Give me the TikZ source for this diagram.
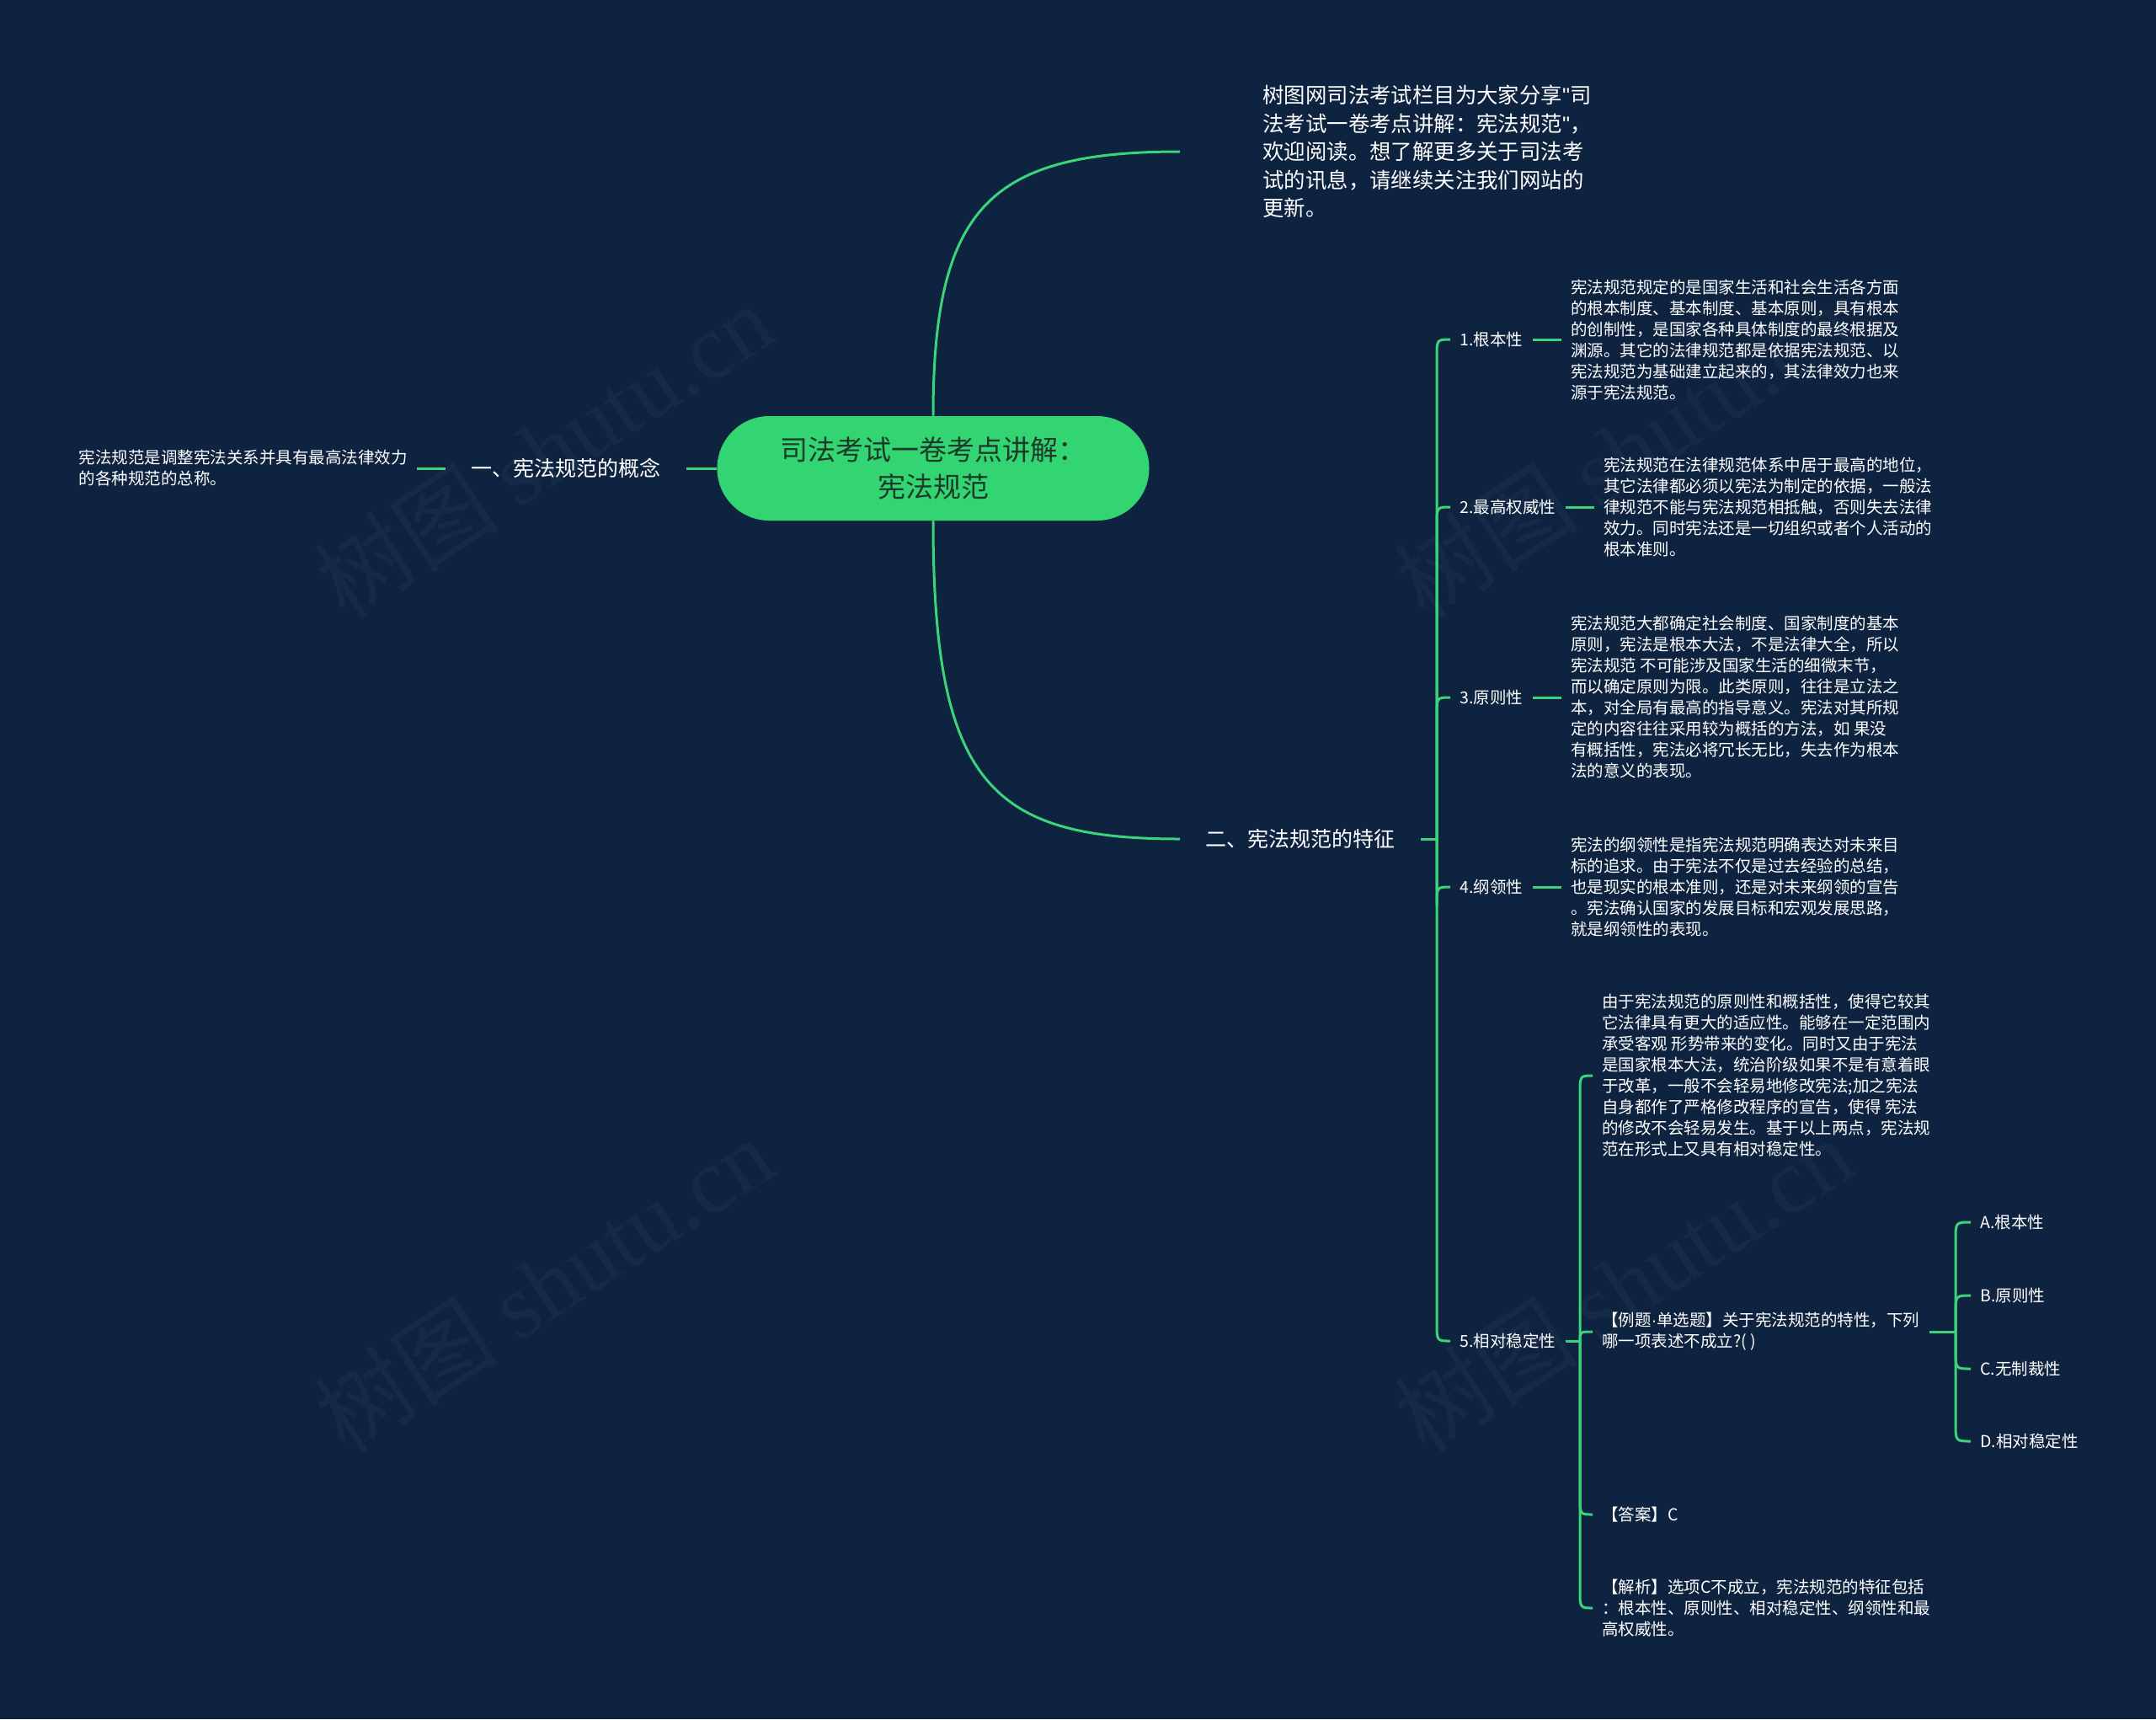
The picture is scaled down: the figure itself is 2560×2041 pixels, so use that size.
\documentclass[tikz,border=0pt]{standalone}
\usepackage{fontspec}
\setmainfont{Noto Sans CJK SC}
\newfontfamily\wmfont{Liberation Serif}
\newfontfamily\qfont{Liberation Sans}
\usetikzlibrary{calc}
\definecolor{bgc}{HTML}{0D2340}
\definecolor{lnc}{HTML}{3BD47A}
\definecolor{rootc}{HTML}{33D572}
\definecolor{roottxt}{HTML}{1B3A2A}
\tikzset{
  conn/.style={draw=lnc, line width=1.5pt},
  small/.style={text=white, font=\fontsize{9.75pt}{12.5pt}\selectfont, inner xsep=5.5pt, inner ysep=2pt, align=left},
  mid/.style={text=white, font=\fontsize{12.5pt}{16pt}\selectfont, inner xsep=15pt, inner ysep=2pt},
  intro/.style={text=white, font=\fontsize{12.7pt}{16.75pt}\selectfont, align=left, inner xsep=49pt},
  rootbox/.style={fill=rootc, rounded corners=31pt, minimum width=256.5pt, minimum height=62pt, text=roottxt, font=\fontsize{16.5pt}{22pt}\selectfont, align=center},
  wm/.style={text=white, opacity=0.035, font=\fontsize{55pt}{60pt}\selectfont, rotate=33}
}
\begin{document}
\begin{tikzpicture}[x=0.5pt, y=-0.5pt]
\fill[bgc] (0,0) rectangle (2560,2041);
\useasboundingbox (0,0) rectangle (2560,2041);

% watermarks
\node[wm] (wm1) at (645,535) {树图 {\wmfont shutu.cn}};
\node[wm] (wm2) at (645,1525) {树图 {\wmfont shutu.cn}};
\node[wm] (wm3) at (1927,535) {树图 {\wmfont shutu.cn}};
\node[wm] (wm4) at (1927,1525) {树图 {\wmfont shutu.cn}};

% root
\node[rootbox] (root) at (1108,556) {司法考试一卷考点讲解：\\宪法规范};

% left branch
\node[mid, anchor=east] (n1) at (815,556) {一、宪法规范的概念};
\node[small, anchor=east] (l0) at (495,556) {宪法规范是调整宪法关系并具有最高法律效力\\的各种规范的总称。};
\draw[conn] (root.west) -- (n1.east);
\draw[conn] (n1.west) -- (l0.east);

% intro
\node[intro, anchor=west] (intro) at (1401,180) {树图网司法考试栏目为大家分享{\qfont "}司\\法考试一卷考点讲解：宪法规范{\qfont "}，\\欢迎阅读。想了解更多关于司法考\\试的讯息，请继续关注我们网站的\\更新。};
\draw[conn] (root.north) .. controls (1108,245) and (1176,180) .. (intro.west);

% second branch
\node[mid, anchor=west] (n2) at (1401,996) {二、宪法规范的特征};
\draw[conn] (root.south) .. controls (1108,930) and (1176,996) .. (n2.west);
\coordinate (b2) at (1706,996);
\draw[conn] (n2.east) -- (b2);

\node[small, anchor=west] (c1) at (1722,403) {1.根本性};
\node[small, anchor=west] (c2) at (1722,602) {2.最高权威性};
\node[small, anchor=west] (c3) at (1722,828) {3.原则性};
\node[small, anchor=west] (c4) at (1722,1053) {4.纲领性};
\node[small, anchor=west] (c5) at (1722,1592) {5.相对稳定性};

\draw[conn] (b2) -- (1706,425) .. controls (1706,403) .. (c1.west);
\draw[conn] (b2) -- (1706,624) .. controls (1706,602) .. (c2.west);
\draw[conn] (b2) -- (1706,850) .. controls (1706,828) .. (c3.west);
\draw[conn] (b2) -- (1706,1075) .. controls (1706,1053) .. (c4.west);
\draw[conn] (b2) -- (1706,1570) .. controls (1706,1592) .. (c5.west);

\node[small, anchor=west] (l1) at (1854,403) {宪法规范规定的是国家生活和社会生活各方面\\的根本制度、基本制度、基本原则，具有根本\\的创制性，是国家各种具体制度的最终根据及\\渊源。其它的法律规范都是依据宪法规范、以\\宪法规范为基础建立起来的，其法律效力也来\\源于宪法规范。};
\node[small, anchor=west] (l2) at (1893,602) {宪法规范在法律规范体系中居于最高的地位，\\其它法律都必须以宪法为制定的依据，一般法\\律规范不能与宪法规范相抵触，否则失去法律\\效力。同时宪法还是一切组织或者个人活动的\\根本准则。};
\node[small, anchor=west] (l3) at (1854,828) {宪法规范大都确定社会制度、国家制度的基本\\原则，宪法是根本大法，不是法律大全，所以\\宪法规范 不可能涉及国家生活的细微末节，\\而以确定原则为限。此类原则，往往是立法之\\本，对全局有最高的指导意义。宪法对其所规\\定的内容往往采用较为概括的方法，如 果没\\有概括性，宪法必将冗长无比，失去作为根本\\法的意义的表现。};
\node[small, anchor=west] (l4) at (1854,1053) {宪法的纲领性是指宪法规范明确表达对未来目\\标的追求。由于宪法不仅是过去经验的总结，\\也是现实的根本准则，还是对未来纲领的宣告\\。宪法确认国家的发展目标和宏观发展思路，\\就是纲领性的表现。};
\draw[conn] (c1.east) -- (l1.west);
\draw[conn] (c2.east) -- (l2.west);
\draw[conn] (c3.east) -- (l3.west);
\draw[conn] (c4.east) -- (l4.west);

% branch 5 children
\coordinate (b5) at (1876,1592);
\draw[conn] (c5.east) -- (b5);
\node[small, anchor=west] (s1) at (1891,1277) {由于宪法规范的原则性和概括性，使得它较其\\它法律具有更大的适应性。能够在一定范围内\\承受客观 形势带来的变化。同时又由于宪法\\是国家根本大法，统治阶级如果不是有意着眼\\于改革，一般不会轻易地修改宪法;加之宪法\\自身都作了严格修改程序的宣告，使得 宪法\\的修改不会轻易发生。基于以上两点，宪法规\\范在形式上又具有相对稳定性。};
\node[small, anchor=west] (s2) at (1891,1581) {【例题{\qfont\symbol{"00B7}}单选题】关于宪法规范的特性，下列\\哪一项表述不成立?( )};
\node[small, anchor=west] (s3) at (1891,1798) {【答案】C};
\node[small, anchor=west] (s4) at (1891,1909) {【解析】选项C不成立，宪法规范的特征包括\\：根本性、原则性、相对稳定性、纲领性和最\\高权威性。};
\draw[conn] (b5) -- (1876,1299) .. controls (1876,1277) .. (s1.west);
\draw[conn] (b5) .. controls (1876,1581) .. (s2.west);
\draw[conn] (b5) -- (1876,1776) .. controls (1876,1798) .. (s3.west);
\draw[conn] (b5) -- (1876,1887) .. controls (1876,1909) .. (s4.west);

% options
\coordinate (b6) at (2322,1581);
\draw[conn] (s2.east) -- (b6);
\node[small, anchor=west] (oa) at (2340,1451) {A.根本性};
\node[small, anchor=west] (ob) at (2340,1538) {B.原则性};
\node[small, anchor=west] (oc) at (2340,1625) {C.无制裁性};
\node[small, anchor=west] (od) at (2340,1711) {D.相对稳定性};
\draw[conn] (b6) -- (2322,1473) .. controls (2322,1451) .. (oa.west);
\draw[conn] (b6) -- (2322,1560) .. controls (2322,1538) .. (ob.west);
\draw[conn] (b6) -- (2322,1603) .. controls (2322,1625) .. (oc.west);
\draw[conn] (b6) -- (2322,1689) .. controls (2322,1711) .. (od.west);
\end{tikzpicture}
\end{document}
